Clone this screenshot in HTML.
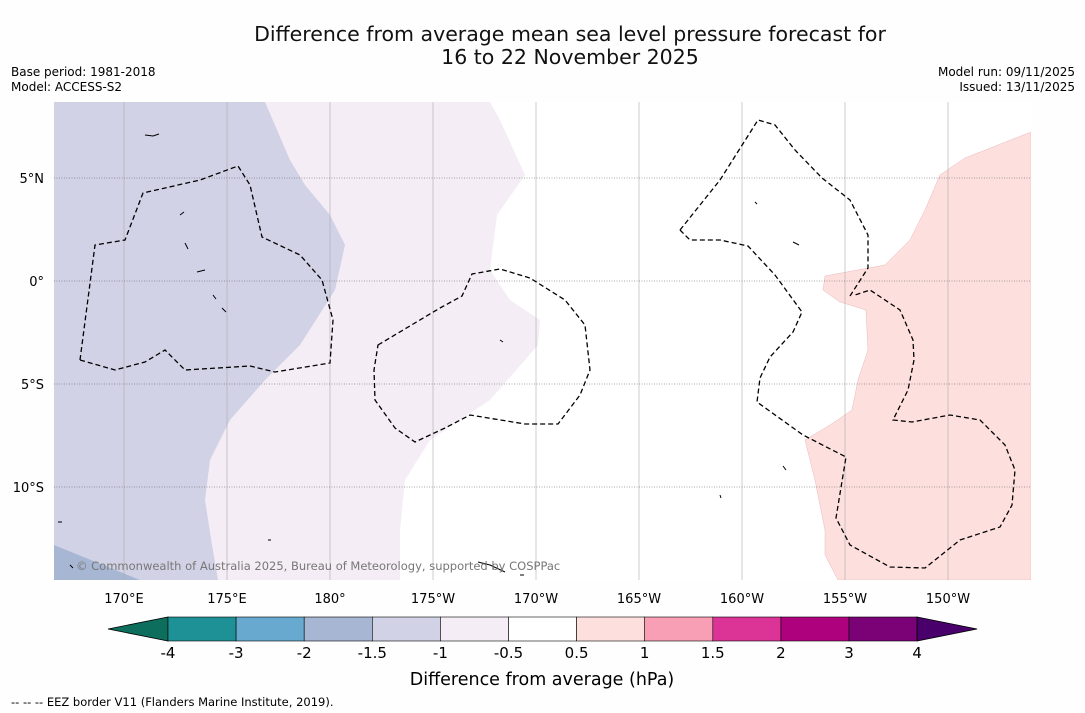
<!DOCTYPE html>
<html><head><meta charset="utf-8">
<style>
body{margin:0;background:#fff;}
svg{display:block;font-family:"DejaVu Sans","Liberation Sans",sans-serif;}
</style></head>
<body>
<svg id="chart" width="1085" height="713" viewBox="0 0 1085 713" xmlns="http://www.w3.org/2000/svg">
<rect width="1085" height="713" fill="#fefefe"/>
<text x="570" y="41" font-size="20.5" text-anchor="middle" fill="#111">Difference from average mean sea level pressure forecast for</text>
<text x="570" y="64" font-size="20.5" text-anchor="middle" fill="#111">16 to 22 November 2025</text>
<text x="11" y="76" font-size="12">Base period: 1981-2018</text>
<text x="11" y="91" font-size="12">Model: ACCESS-S2</text>
<text x="1075" y="76" font-size="12" text-anchor="end">Model run: 09/11/2025</text>
<text x="1075" y="91" font-size="12" text-anchor="end">Issued: 13/11/2025</text>

<g>
<clipPath id="mc"><rect x="54" y="102" width="977" height="478"/></clipPath>
<g clip-path="url(#mc)">
<rect x="54" y="102" width="977" height="478" fill="#ffffff"/>
<path fill="#f4edf5" d="M54,102 L490,102 L500,120 L525,175 L497,215 L490,270 L510,300 L540,320 L538,345 L490,400 L430,440 L405,480 L400,530 L400,580 L54,580Z"/>
<path fill="#d1d2e6" d="M54,102 L265,102 L290,160 L305,185 L330,215 L345,245 L335,290 L300,345 L265,380 L230,420 L210,460 L205,500 L212,545 L218,580 L54,580Z"/>
<path fill="#a7b7d3" d="M54,545 L140,580 L54,580Z"/>
<path fill="#fde0de" stroke="#e8b8b8" stroke-width="0.5" d="M1031,132 L965,158 L940,175 L925,210 L910,240 L885,265 L825,276 L823,290 L840,302 L866,310 L868,350 L858,380 L852,410 L830,425 L805,440 L815,480 L825,530 L825,555 L838,580 L1031,580Z"/>
<g id="grid" stroke-width="0.6"></g>
<g fill="none" stroke="#000" stroke-width="1.3" stroke-dasharray="5,3">
<path d="M80,360 L95,245 L125,240 L143,193 L200,180 L238,166 L250,185 L262,237 L300,255 L322,280 L333,320 L330,363 L275,372 L250,366 L185,370 L165,350 L145,362 L115,370 Z"/>
<path d="M378,345 L440,308 L462,296 L472,274 L500,269 L530,278 L565,300 L585,325 L590,370 L580,395 L558,424 L525,424 L470,415 L445,428 L415,442 L395,428 L375,400 L374,370 Z"/>
<path d="M680,230 L720,180 L758,120 L775,125 L795,150 L822,178 L850,200 L868,235 L868,268 L850,296"/>
<path d="M680,230 L690,240 L720,240 L748,246 L775,275 L802,312 L793,332 L770,357 L760,378 L757,402 L803,435 L846,457 L836,518 L850,545 L890,567 L925,568 L960,540 L1000,527 L1012,505 L1015,470 L1005,445 L980,420 L950,415 L912,422 L893,420 L908,390 L914,360 L913,340 L900,310 L870,290 L855,295"/>
</g>
<g fill="none" stroke="#000" stroke-width="1">
<path d="M145,135 l8,1 l6,-2"/><path d="M180,215 l4,-3"/><path d="M185,243 l3,6"/><path d="M197,272 l8,-2"/><path d="M213,295 l3,4"/><path d="M222,308 l4,4"/><path d="M500,340 l3,2"/><path d="M478,562 l12,3 l15,7"/><path d="M755,202 l2,2"/><path d="M793,242 l6,3"/><path d="M783,466 l3,4"/><path d="M720,495 l1,3"/><path d="M58,522 l4,0"/><path d="M70,565 l3,3"/><path d="M520,575 l4,0"/><path d="M268,540 l3,0"/>
</g>
</g>
<text x="76" y="570" font-size="11.5" fill="#777">© Commonwealth of Australia 2025, Bureau of Meteorology, supported by COSPPac</text>
</g>
<g id="axes"></g>
<g id="colorbar"></g>
<text x="542" y="685" font-size="17.5" text-anchor="middle">Difference from average (hPa)</text>
<text x="11" y="706" font-size="11.5">--  --  -- EEZ border V11 (Flanders Marine Institute, 2019).</text>
</svg>
<script>
const lonLabels=["170°E","175°E","180°","175°W","170°W","165°W","160°W","155°W","150°W"];
const lonValues=[170,175,180,185,190,195,200,205,210];
const latLabels=["5°N","0°","5°S","10°S"];
const latValues=[5,0,-5,-10];
const cbLevels=["-4","-3","-2","-1.5","-1","-0.5","0.5","1","1.5","2","3","4"];
const cbColors=["#1d9195","#68a9cf","#a7b7d3","#d1d2e6","#f4edf5","#ffffff","#fde0de","#f99fb5","#dc3496","#ae017e","#7b0177"];
const lowColor="#0e6e5e", highColor="#4a006a";
const NS="http://www.w3.org/2000/svg";
function xLon(l){return 124+(l-170)*20.6;}
function yLat(l){return 281-l*20.6;}
function mk(t,a,p){const e=document.createElementNS(NS,t);for(const k in a)e.setAttribute(k,a[k]);p.appendChild(e);return e;}
const grid=document.getElementById('grid'),axes=document.getElementById('axes');
lonValues.forEach((v,i)=>{const x=xLon(v);
 const l=mk('line',{x1:x,x2:x,y1:102,y2:580,stroke:'#aaa'},grid);
 
 
 const t=mk('text',{x:x,y:603,'font-size':13,'text-anchor':'middle'},axes);t.textContent=lonLabels[i];
 
 });
latValues.forEach((v,i)=>{const y=yLat(v);
 const l=mk('line',{x1:54,x2:1031,y1:y,y2:y,stroke:'#555','stroke-dasharray':'1,1.5'},grid);
 
 
 const t=mk('text',{x:44,y:y+5,'font-size':13,'text-anchor':'end'},axes);t.textContent=latLabels[i];
 
 });
const cb=document.getElementById('colorbar');
const x0=168,w=68.1,y0=617,h=24;
const lt=mk('polygon',{points:`108,${y0+h/2} ${x0},${y0} ${x0},${y0+h}`,fill:lowColor,stroke:'#000','stroke-width':0.8},cb);


cbColors.forEach((c,i)=>{const r=mk('rect',{x:x0+i*w,y:y0,width:w,height:h,fill:c,stroke:'#000','stroke-width':0.6},cb);
 
 });
const xe=x0+cbColors.length*w;
const rt=mk('polygon',{points:`${xe},${y0} ${xe+60},${y0+h/2} ${xe},${y0+h}`,fill:highColor,stroke:'#000','stroke-width':0.8},cb);


cbLevels.forEach((s,i)=>{const t=mk('text',{x:x0+i*w,y:658,'font-size':15,'text-anchor':'middle'},cb);t.textContent=s;
 
 });
</script>
</body></html>
